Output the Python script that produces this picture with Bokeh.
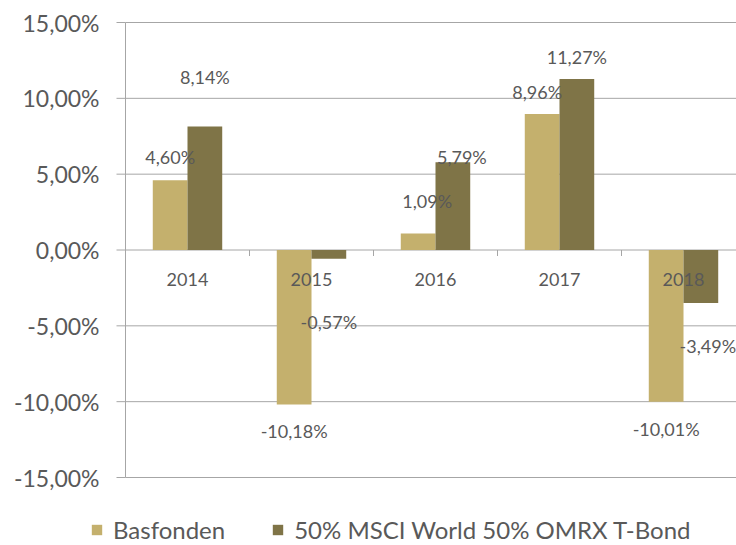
import math
from bokeh.plotting import figure
from bokeh.models import Range1d, ColumnDataSource, Legend, LegendItem
from bokeh.core.properties import value
from bokeh.embed import file_html
from bokeh.resources import INLINE

# ---- data ----
years = ["2014", "2015", "2016", "2017", "2018"]
basfonden = [4.60, -10.18, 1.09, 8.96, -10.01]
benchmark = [8.14, -0.57, 5.79, 11.27, -3.49]
series_names = ["Basfonden", "50% MSCI World 50% OMRX T-Bond"]
y_ticks = [-15, -10, -5, 0, 5, 10, 15]
y_tick_labels = ["-15,00%", "-10,00%", "-5,00%", "0,00%", "5,00%", "10,00%", "15,00%"]

# label nudges (screen px) as placed in the original chart
bas_dx = [0, 0, 9, -5, 0]
bas_dy = [-23, 27, -32, -22, 27]
ben_dx = [0, 0, 9, 0, 7]
ben_dy = [-50, 63, -5, -22, 43]

# ---- style / layout ----
C_BAS = "#C4B06D"
C_BEN = "#7F7447"
TXT = "#595959"
GRID = "#A6A6A6"
FONT = "Lato"
BAR_W = 0.28
W, H = 736, 545
AX_X = 125          # px from left where the value axis sits
TOP_PX, BOT_PX = 22, 477   # px rows of +15% and -15%
CAT_PX = 124        # px per category

ymin, ymax = y_ticks[0], y_ticks[-1]
ppu = (BOT_PX - TOP_PX) / (ymax - ymin)

def fmt(v):
    return ("%.2f" % v).replace(".", ",") + "%"

n = len(years)
idx = list(range(n))

p = figure(width=W, height=H, output_backend="svg", toolbar_location=None,
           x_range=Range1d(-AX_X / CAT_PX, (W - AX_X) / CAT_PX),
           y_range=Range1d(ymin - (H - BOT_PX) / ppu, ymax + TOP_PX / ppu),
           min_border_left=0, min_border_top=0, min_border_bottom=0, min_border_right=0)
p.outline_line_color = None
p.background_fill_color = "white"
p.border_fill_color = "white"
p.axis.visible = False
p.grid.visible = False

# gridlines + value axis
p.ray(x=[0] * len(y_ticks), y=y_ticks, length=0, angle=0, line_color=GRID, line_width=1)
p.ray(x=[0] * len(y_ticks), y=y_ticks, length=9, length_units="screen", angle=math.pi,
      line_color=GRID, line_width=1)
p.segment(x0=[0], y0=[ymin], x1=[0], y1=[ymax], line_color=GRID, line_width=1)
p.text(x=[0] * len(y_ticks), y=y_ticks, text=y_tick_labels, x_offset=-26,
       text_align="right", text_baseline="middle",
       text_font=value(FONT), text_font_size="23px", text_color=TXT)

src = ColumnDataSource(dict(
    xb=[i + 0.5 - BAR_W / 2 for i in idx],
    xm=[i + 0.5 + BAR_W / 2 for i in idx],
    bas=basfonden, ben=benchmark,
    bas_lbl=[fmt(v) for v in basfonden], ben_lbl=[fmt(v) for v in benchmark],
    bas_dx=bas_dx, bas_dy=bas_dy, ben_dx=ben_dx, ben_dy=ben_dy,
))

r1 = p.vbar(x="xb", top="bas", bottom=0, width=BAR_W, source=src,
            fill_color=C_BAS, line_color=None)
r2 = p.vbar(x="xm", top="ben", bottom=0, width=BAR_W, source=src,
            fill_color=C_BEN, line_color=None)

# category tick marks on the zero line
p.ray(x=[i for i in range(1, n + 1)], y=[0] * n, length=6, length_units="screen",
      angle=-math.pi / 2, line_color=GRID, line_width=1)

# category labels
p.text(x=[i + 0.5 for i in idx], y=[0] * n, text=years, y_offset=29,
       text_align="center", text_baseline="middle",
       text_font=value(FONT), text_font_size="18px", text_color=TXT)

# data labels
p.text(x="xb", y="bas", text="bas_lbl", x_offset="bas_dx", y_offset="bas_dy", source=src,
       text_align="center", text_baseline="middle",
       text_font=value(FONT), text_font_size="18px", text_color=TXT)
p.text(x="xm", y="ben", text="ben_lbl", x_offset="ben_dx", y_offset="ben_dy", source=src,
       text_align="center", text_baseline="middle",
       text_font=value(FONT), text_font_size="18px", text_color=TXT)

legend = Legend(items=[LegendItem(label=series_names[0], renderers=[r1]),
                       LegendItem(label=series_names[1], renderers=[r2])],
                orientation="horizontal", location=(90, 1))
legend.padding = 0
legend.margin = 0
legend.spacing = 46
legend.border_line_color = None
legend.background_fill_alpha = 0
legend.glyph_width = 13
legend.glyph_height = 13
legend.label_standoff = 10
legend.label_text_font = FONT
legend.label_text_font_size = "24px"
legend.label_text_color = TXT
p.add_layout(legend)

open("out.html", "w").write(file_html(p, INLINE))
